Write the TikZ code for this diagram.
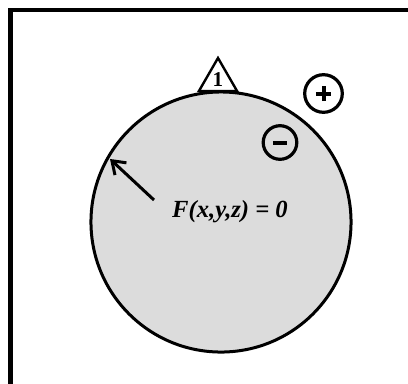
\documentclass[tikz,border=0pt]{standalone}
\usepackage{fontspec}
\setmainfont{Liberation Serif}
\usetikzlibrary{arrows.meta,positioning,shapes.geometric}
\definecolor{surfgray}{HTML}{DCDCDC}

\begin{document}
\begin{tikzpicture}[x=0.025cm,y=-0.025cm,
  charge/.style={circle,draw,line width=0.08cm,inner sep=0pt},
  sign/.style={line width=0.1cm}]
\useasboundingbox (0,0) rectangle (408,383);
\draw[line width=0.1cm] (10.5,9.5) rectangle (430,400);
\node[regular polygon,regular polygon sides=3,draw,fill=white,line width=0.06cm,
  minimum size=1.1cm,inner sep=0pt] (tri) at (218,80) {};
\node[circle,draw,fill=surfgray,line width=0.075cm,minimum size=6.5cm] (surf) at (221,222) {};
\node[font=\bfseries\fontsize{15}{15}\selectfont] (one) at (218,80) {1};
% charges
\node[charge,minimum size=0.94cm] (pos) at (323.5,93.5) {};
\node[charge,minimum size=0.84cm] (neg) at (280,142.5) {};
\draw[sign] ([xshift=-0.19cm]pos.center) -- ([xshift=0.19cm]pos.center);
\draw[sign] ([yshift=-0.19cm]pos.center) -- ([yshift=0.19cm]pos.center);
\draw[sign] ([xshift=-0.18cm]neg.center) -- ([xshift=0.18cm]neg.center);
\node[font=\bfseries\itshape\fontsize{17.5}{20}\selectfont] (eqn) at (230,212) {F(x,y,z) = 0};
\coordinate (tail) at (154,200);
\draw[line width=0.075cm,-{Straight Barb[length=0.3cm,width=0.42cm]},shorten >=0.1cm] (tail) -- (surf.150);
\end{tikzpicture}
\end{document}
